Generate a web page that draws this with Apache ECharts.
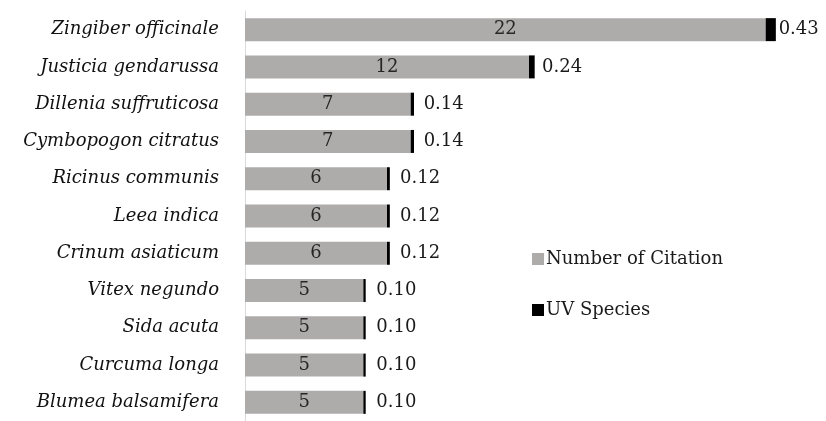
<!DOCTYPE html>
<html>
<head>
<meta charset="utf-8">
<script src="https://cdn.jsdelivr.net/npm/echarts@6/dist/echarts.min.js"></script>
<style>
  html, body { margin: 0; padding: 0; background: #fff; }
  #container { width: 826px; height: 421px; }
</style>
</head>
<body>
<div id="container"></div>
<script>
// species, top to bottom as in the picture
let species = [
    'Zingiber officinale', 'Justicia gendarussa', 'Dillenia suffruticosa',
    'Cymbopogon citratus', 'Ricinus communis', 'Leea indica',
    'Crinum asiaticum', 'Vitex negundo', 'Sida acuta',
    'Curcuma longa', 'Blumea balsamifera'
];
let citations = [22, 12, 7, 7, 6, 6, 6, 5, 5, 5, 5];
let uvSpecies = [0.43, 0.24, 0.14, 0.14, 0.12, 0.12, 0.12, 0.10, 0.10, 0.10, 0.10];

let font = 'DejaVu Serif';

let chart = echarts.init(document.getElementById('container'));
chart.setOption({
    animation: false,
    textStyle: { fontFamily: font },
    legend: {
        orient: 'vertical',
        left: 527,
        top: 245,
        itemWidth: 12,
        itemHeight: 12,
        itemGap: 33,
        icon: 'rect',
        textStyle: { fontFamily: font, fontSize: 18, color: '#1a1a1a', padding: [0, 0, 0, -3] },
        data: ['Number of Citation', 'UV Species']
    },
    grid: { left: 245, top: 11, width: 568, height: 415 },
    xAxis: {
        type: 'value',
        min: 0,
        max: 24,
        show: false
    },
    yAxis: {
        type: 'category',
        inverse: true,
        data: species,
        axisLine: { show: true, lineStyle: { color: '#d9d9d9', width: 1 } },
        axisTick: { show: false },
        axisLabel: {
            margin: 26,
            fontFamily: font,
            fontStyle: 'italic',
            fontSize: 18,
            color: '#111'
        }
    },
    series: [{
        name: 'Number of Citation',
        type: 'bar',
        stack: 'a',
        barWidth: 23,
        itemStyle: { color: '#aeabab' },
        label: {
            show: true,
            position: 'inside',
            fontFamily: font,
            fontSize: 18,
            color: '#262626'
        },
        data: citations
    }, {
        name: 'UV Species',
        type: 'bar',
        stack: 'a',
        barWidth: 23,
        barMinWidth: 2,
        itemStyle: { color: '#000' },
        label: {
            show: true,
            position: [13, '50%'],
            align: 'left',
            verticalAlign: 'middle',
            fontFamily: font,
            fontSize: 18,
            color: '#1a1a1a',
            formatter: (p) => p.value.toFixed(2)
        },
        data: uvSpecies
    }]
});
</script>
</body>
</html>
